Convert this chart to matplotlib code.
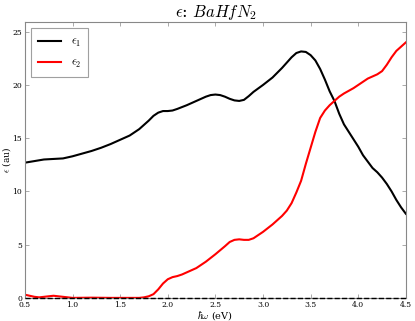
import matplotlib
matplotlib.use("Agg")
import matplotlib.pyplot as plt

plt.rcParams["font.family"] = "DejaVu Serif"
plt.rcParams["mathtext.fontset"] = "cm"

# photon energy (eV) and dielectric function components
energy_1 = [0.50, 0.60, 0.70, 0.80, 0.90, 1.00, 1.10, 1.20, 1.30, 1.40,
            1.50, 1.60, 1.70, 1.80, 1.85, 1.90, 1.95, 2.00, 2.05, 2.10,
            2.20, 2.30, 2.40, 2.45, 2.50, 2.55, 2.60, 2.65, 2.70, 2.75,
            2.80, 2.85, 2.90, 3.00, 3.10, 3.20, 3.25, 3.30, 3.35, 3.40,
            3.45, 3.50, 3.55, 3.60, 3.65, 3.70, 3.75, 3.80, 3.85, 3.90,
            3.95, 4.00, 4.05, 4.10, 4.15, 4.20, 4.25, 4.30, 4.35, 4.40,
            4.45, 4.50]
eps1 = [12.7, 12.85, 13.0, 13.05, 13.1, 13.3, 13.55, 13.8, 14.1, 14.45,
        14.85, 15.25, 15.85, 16.65, 17.1, 17.4, 17.55, 17.55, 17.6, 17.75,
        18.1, 18.5, 18.9, 19.05, 19.1, 19.05, 18.9, 18.7, 18.55, 18.5,
        18.6, 18.95, 19.35, 20.0, 20.7, 21.6, 22.1, 22.6, 23.0, 23.15,
        23.1, 22.8, 22.3, 21.5, 20.5, 19.4, 18.5, 17.3, 16.3, 15.6,
        14.9, 14.2, 13.4, 12.8, 12.2, 11.8, 11.3, 10.7, 10.0, 9.2,
        8.5, 7.9]

energy_2 = [0.50, 0.55, 0.60, 0.65, 0.70, 0.80, 0.90, 1.00, 1.20, 1.40,
            1.60, 1.70, 1.75, 1.80, 1.85, 1.90, 1.95, 2.00, 2.05, 2.10,
            2.15, 2.20, 2.30, 2.40, 2.50, 2.60, 2.65, 2.70, 2.75, 2.80,
            2.85, 2.90, 3.00, 3.10, 3.20, 3.25, 3.30, 3.35, 3.40, 3.45,
            3.50, 3.55, 3.60, 3.65, 3.70, 3.75, 3.80, 3.85, 3.90, 3.95,
            4.00, 4.05, 4.10, 4.15, 4.20, 4.25, 4.30, 4.35, 4.40, 4.45,
            4.50]
eps2 = [0.3, 0.2, 0.1, 0.05, 0.1, 0.2, 0.1, 0.0, 0.02, 0.0,
        0.0, 0.0, 0.05, 0.15, 0.35, 0.8, 1.35, 1.75, 1.95, 2.05,
        2.2, 2.4, 2.8, 3.4, 4.1, 4.85, 5.25, 5.45, 5.5, 5.45,
        5.45, 5.6, 6.2, 6.9, 7.7, 8.2, 8.9, 9.9, 11.0, 12.6,
        14.1, 15.6, 16.9, 17.6, 18.1, 18.5, 18.9, 19.2, 19.45, 19.7,
        20.0, 20.3, 20.6, 20.8, 21.0, 21.3, 21.9, 22.6, 23.2, 23.6,
        24.0]

x_ticks = [0.5, 1.0, 1.5, 2.0, 2.5, 3.0, 3.5, 4.0, 4.5]
y_ticks = [0, 5, 10, 15, 20, 25]

fig = plt.figure(figsize=(4.15, 3.21), dpi=100)
ax = fig.add_axes([0.060, 0.072, 0.918, 0.859])

ax.plot(energy_1, eps1, color="black", lw=1.5, label=r"$\epsilon_1$")
ax.plot(energy_2, eps2, color="red", lw=1.5, label=r"$\epsilon_2$")
ax.axhline(0, color="black", ls="--", lw=1.0, clip_on=False, zorder=5)

ax.set_xlim(0.5, 4.5)
ax.set_ylim(0, 25.9)
ax.set_xticks(x_ticks)
ax.set_yticks(y_ticks)
ax.tick_params(direction="in", top=True, right=True, labelsize=5.5,
               length=3, width=0.5, color="#888888", pad=2)
for s in ax.spines.values():
    s.set_color("#888888")

ax.set_xlabel(r"$\hbar\omega$ (eV)", fontsize=7, labelpad=0)
ax.set_ylabel(r"$\epsilon$ (au)", fontsize=6.5)
ax.yaxis.set_label_coords(-0.031, 0.5)
ax.set_title(r"$\epsilon$: $BaHfN_2$", fontsize=12, pad=4)

leg = ax.legend(loc="upper left", fontsize=8.5, fancybox=False,
                handlelength=2.0, borderpad=0.6, labelspacing=0.6)
leg.get_frame().set_edgecolor("#888888")
leg.get_frame().set_linewidth(0.8)

fig.savefig("out.png", dpi=100)
